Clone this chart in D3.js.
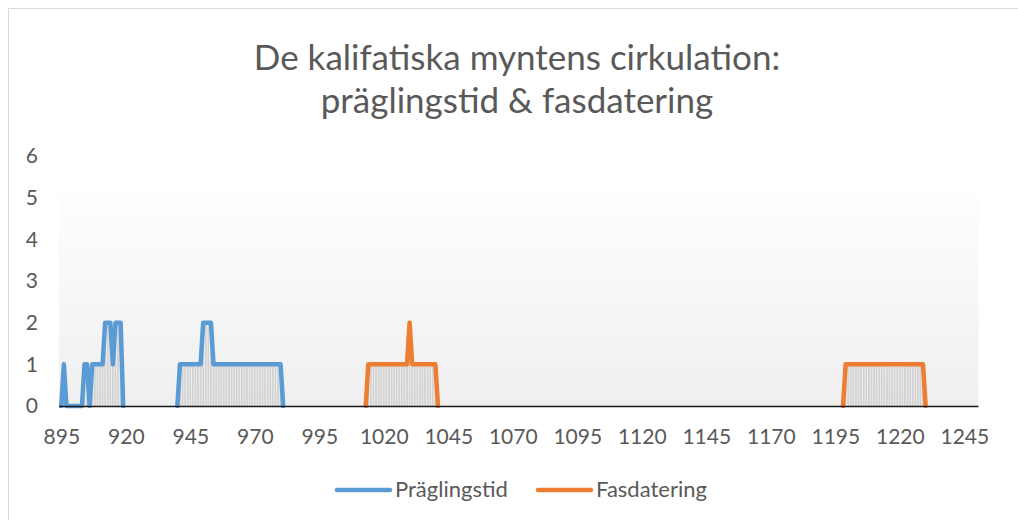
<!DOCTYPE html>
<html>
<head>
<meta charset="utf-8">
<script src="https://cdn.jsdelivr.net/npm/d3@7"></script>
<style>
  body { margin: 0; background: #fff; }
  text { font-family: Lato, "Open Sans", sans-serif; fill: #595959; }
</style>
</head>
<body>
<div class="chart"></div>
<script>
// Chart data: yearly counts, one array per unbroken run of years
var pragStartA = 895;
var pragValuesA = [0, 1, 0, 0, 0, 0, 0, 0, 0, 1, 1, 0, 1, 1, 1, 1, 1, 2, 2, 2, 1, 2, 2, 2, 0];
var pragStartB = 940;
var pragValuesB = [0, 1, 1, 1, 1, 1, 1, 1, 1, 1, 2, 2, 2, 2, 1, 1, 1, 1, 1, 1, 1, 1, 1, 1,
  1, 1, 1, 1, 1, 1, 1, 1, 1, 1, 1, 1, 1, 1, 1, 1, 1, 0];
var fasStartA = 1013;
var fasValuesA = [0, 1, 1, 1, 1, 1, 1, 1, 1, 1, 1, 1, 1, 1, 1, 1, 1, 2, 1, 1, 1, 1, 1, 1, 1, 1, 1, 1, 0];
var fasStartB = 1198;
var fasValuesB = [0, 1, 1, 1, 1, 1, 1, 1, 1, 1, 1, 1, 1, 1, 1, 1, 1, 1, 1, 1, 1, 1, 1, 1,
  1, 1, 1, 1, 1, 1, 1, 1, 0];

var xTickLabels = [895, 920, 945, 970, 995, 1020, 1045, 1070, 1095, 1120, 1145, 1170, 1195, 1220, 1245];
var yTickLabels = [0, 1, 2, 3, 4, 5, 6];
var seriesNames = ["Präglingstid", "Fasdatering"];
var seriesColors = ["#5b9bd5", "#ed7d31"];

var svgWidth = 1018;
var svgHeight = 520;

var svg = d3.select(".chart")
  .append("svg")
  .attr("width", svgWidth)
  .attr("height", svgHeight);

// chart border (left & top visible in the frame)
svg.append("path")
  .attr("d", "M8.5,540 V8.5 H1040")
  .attr("fill", "none")
  .attr("stroke", "#d9d9d9");

// turn a start year + values into points
function toPoints(start, values) {
  return values.map((v, i) => ({ year: start + i, value: v }));
}

var pragSegments = [toPoints(pragStartA, pragValuesA), toPoints(pragStartB, pragValuesB)];
var fasSegments = [toPoints(fasStartA, fasValuesA), toPoints(fasStartB, fasValuesB)];

// category axis: each year gets one slot
var xScale = d3.scaleLinear()
  .domain([894.5, 1250.5])
  .range([60, 978.5]);

var yScale = d3.scaleLinear()
  .domain([0, 6])
  .range([406, 156]);

// plot area gradient
var defs = svg.append("defs");
var grad = defs.append("linearGradient")
  .attr("id", "plotFill")
  .attr("x1", 0).attr("y1", 0)
  .attr("x2", 0).attr("y2", 1);
grad.append("stop").attr("offset", "0%").attr("stop-color", "#fefefe");
grad.append("stop").attr("offset", "100%").attr("stop-color", "#efefef");

svg.append("rect")
  .attr("x", 59)
  .attr("y", yScale(5.2))
  .attr("width", 978.5 - 59)
  .attr("height", yScale(0) - yScale(5.2))
  .attr("fill", "url(#plotFill)");

// drop lines under every point
var allPoints = pragSegments.concat(fasSegments).flat().filter(d => d.value > 0);
svg.append("g")
  .selectAll("line")
  .data(allPoints)
  .enter()
  .append("line")
  .attr("x1", d => xScale(d.year))
  .attr("x2", d => xScale(d.year))
  .attr("y1", yScale(0))
  .attr("y2", d => yScale(d.value))
  .attr("stroke", "#d3d3d3")
  .attr("stroke-width", 1.8);

// x axis
var bottomAxis = d3.axisBottom(xScale)
  .tickValues(xTickLabels)
  .tickSize(0)
  .tickPadding(23)
  .tickFormat(d3.format("d"));

var xAxis = svg.append("g")
  .attr("transform", `translate(0, ${yScale(0)})`)
  .call(bottomAxis);
xAxis.select(".domain").remove();
xAxis.selectAll("text")
  .style("font-size", "21px")
  .style("font-family", "Lato, sans-serif")
  .attr("fill", "#595959");

// y axis labels only
var leftAxis = d3.axisLeft(yScale)
  .tickValues(yTickLabels)
  .tickSize(0)
  .tickPadding(0)
  .tickFormat(d3.format("d"));
var yAxis = svg.append("g")
  .attr("transform", "translate(38, 0)")
  .call(leftAxis);
yAxis.select(".domain").remove();
yAxis.selectAll("text")
  .style("font-size", "21px")
  .style("font-family", "Lato, sans-serif")
  .attr("fill", "#595959");

// lines
var line = d3.line()
  .x(d => xScale(d.year))
  .y(d => yScale(d.value));

[pragSegments, fasSegments].forEach(function(segs, i) {
  svg.append("g")
    .selectAll("path")
    .data(segs)
    .enter()
    .append("path")
    .attr("d", line)
    .attr("fill", "none")
    .attr("stroke", seriesColors[i])
    .attr("stroke-width", 4.5)
    .attr("stroke-linejoin", "round")
    .attr("stroke-linecap", "round");
});

// horizontal axis line on top of the zero values
svg.append("line")
  .attr("x1", 59)
  .attr("x2", 978.5)
  .attr("y1", yScale(0) + 0.5)
  .attr("y2", yScale(0) + 0.5)
  .attr("stroke", "#1a1a1a")
  .attr("stroke-width", 1.5);

// title
var title = svg.append("text")
  .attr("x", 517)
  .attr("text-anchor", "middle")
  .style("font-size", "35px");
title.append("tspan").attr("x", 517).attr("y", 70).text("De kalifatiska myntens cirkulation:");
title.append("tspan").attr("x", 517).attr("y", 113).text("präglingstid & fasdatering");

// legend
var legendX = [337, 538];
var legend = svg.append("g");
seriesNames.forEach(function(name, i) {
  legend.append("line")
    .attr("x1", legendX[i])
    .attr("x2", legendX[i] + 53)
    .attr("y1", 490)
    .attr("y2", 490)
    .attr("stroke", seriesColors[i])
    .attr("stroke-width", 4.5)
    .attr("stroke-linecap", "round");
  legend.append("text")
    .attr("x", legendX[i] + 58)
    .attr("y", 497)
    .style("font-size", "22px")
    .text(name);
});
</script>
</body>
</html>
